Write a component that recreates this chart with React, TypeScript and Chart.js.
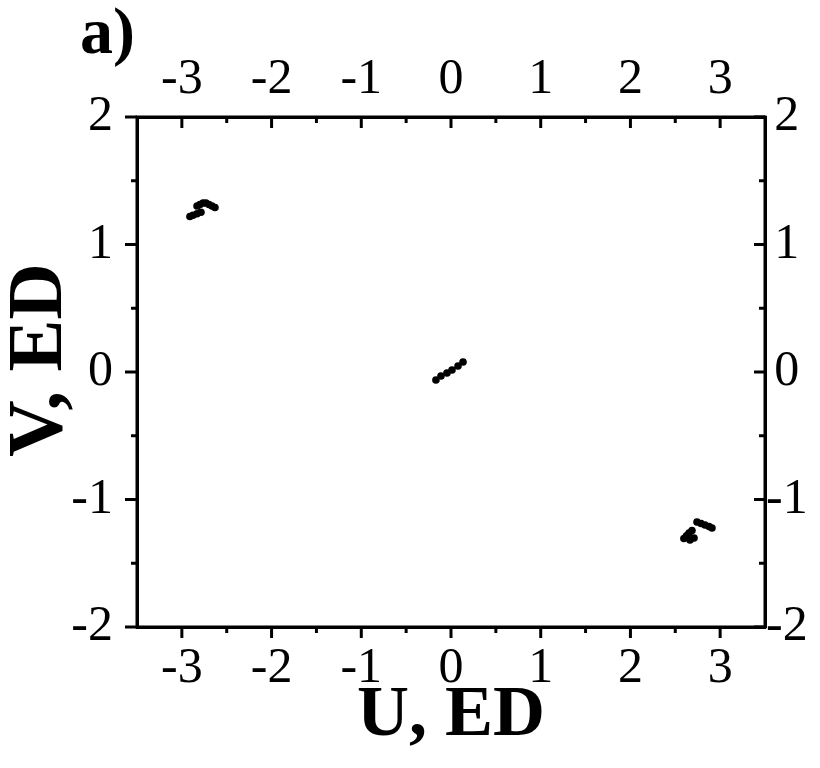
import React, { useEffect, useRef } from "react";
import { Chart, registerables } from "chart.js";

Chart.register(...registerables);

// ---- data ----
const CLUSTER_LEFT_U = [-2.91, -2.876, -2.831, -2.787, -2.831, -2.798, -2.764, -2.731, -2.698, -2.664, -2.631];
const CLUSTER_LEFT_V = [1.22, 1.229, 1.241, 1.253, 1.302, 1.314, 1.325, 1.325, 1.314, 1.302, 1.29];

const CLUSTER_CENTER_U = [-0.168, -0.112, -0.045, 0.011, 0.078, 0.134];
const CLUSTER_CENTER_V = [-0.063, -0.031, -0.008, 0.016, 0.047, 0.078];

const CLUSTER_RIGHT_U = [2.742, 2.787, 2.831, 2.876, 2.909, 2.596, 2.625, 2.653, 2.686, 2.664, 2.709];
const CLUSTER_RIGHT_V = [-1.176, -1.188, -1.2, -1.212, -1.224, -1.306, -1.284, -1.263, -1.243, -1.318, -1.302];

const X_MAJOR = [-3, -2, -1, 0, 1, 2, 3];
const X_MINOR = [-2.5, -1.5, -0.5, 0.5, 1.5, 2.5];
const Y_MAJOR = [-2, -1, 0, 1, 2];
const Y_MINOR = [-1.5, -0.5, 0.5, 1.5];

const X_TITLE = "U, ED";
const Y_TITLE = "V, ED";
const PANEL_LABEL = "a)";

const FAMILY = '"Liberation Serif", "Times New Roman", Times, serif';

function toPoints(u: number[], v: number[]) {
  return u.map((x, i) => ({ x, y: v[i] }));
}

const frameTicks = {
  id: "frameTicks",
  afterDraw(chart: any) {
    const { ctx, scales } = chart;
    const x = scales.x;
    const y = scales.y;
    const area = chart.chartArea;
    ctx.save();
    ctx.strokeStyle = "#000";
    ctx.lineWidth = 3;
    ctx.lineCap = "butt";
    const line = (x1: number, y1: number, x2: number, y2: number) => {
      ctx.beginPath();
      ctx.moveTo(x1, y1);
      ctx.lineTo(x2, y2);
      ctx.stroke();
    };
    X_MAJOR.forEach((v) => {
      const px = x.getPixelForValue(v);
      line(px, area.bottom, px, area.bottom + 11);
      line(px, area.top, px, area.top + 11);
    });
    X_MINOR.forEach((v) => {
      const px = x.getPixelForValue(v);
      line(px, area.bottom, px, area.bottom + 6);
      line(px, area.top, px, area.top + 6);
    });
    Y_MAJOR.forEach((v) => {
      const py = y.getPixelForValue(v);
      line(area.left, py, area.left - 12, py);
      line(area.right, py, area.right - 11, py);
    });
    Y_MINOR.forEach((v) => {
      const py = y.getPixelForValue(v);
      line(area.left, py, area.left - 6, py);
      line(area.right, py, area.right - 6, py);
    });
    ctx.strokeRect(area.left, area.top, area.right - area.left, area.bottom - area.top);

    ctx.fillStyle = "#000";
    ctx.font = `bold 66px ${FAMILY}`;
    ctx.textAlign = "left";
    ctx.textBaseline = "alphabetic";
    ctx.fillText(PANEL_LABEL, 80, 53);

    ctx.font = `bold 72px ${FAMILY}`;
    ctx.textAlign = "center";
    ctx.textBaseline = "middle";
    ctx.fillText(X_TITLE, (area.left + area.right) / 2, 716);

    ctx.font = `bold 78px ${FAMILY}`;
    ctx.translate(41, 360);
    ctx.rotate(-Math.PI / 2);
    ctx.fillText(Y_TITLE, 0, 0);
    ctx.restore();
  },
};

export default function App() {
  const ref = useRef<HTMLCanvasElement | null>(null);
  useEffect(() => {
    if (!ref.current) return;
    const tickFont = { family: FAMILY, size: 50 };
    const setTicks = (vals: number[]) => (s: any) => {
      s.ticks = vals.map((v) => ({ value: v }));
    };
    const border = { display: true, color: "#000", width: 3 };
    const grid = { display: false, drawTicks: false };
    const chart = new Chart(ref.current, {
      type: "scatter",
      data: {
        datasets: [
          { data: toPoints(CLUSTER_LEFT_U, CLUSTER_LEFT_V) },
          { data: toPoints(CLUSTER_CENTER_U, CLUSTER_CENTER_V) },
          { data: toPoints(CLUSTER_RIGHT_U, CLUSTER_RIGHT_V) },
        ].map((d) => ({
          ...d,
          pointRadius: 3.8,
          pointBackgroundColor: "#000",
          pointBorderWidth: 0,
          showLine: false,
        })),
      },
      options: {
        animation: false,
        responsive: false,
        devicePixelRatio: 1,
        layout: { padding: 0 },
        plugins: { legend: { display: false }, tooltip: { enabled: false } },
        scales: {
          x: {
            type: "linear",
            position: "bottom",
            min: -3.5,
            max: 3.5,
            grid,
            border,
            afterBuildTicks: setTicks(X_MAJOR),
            ticks: { font: tickFont, color: "#000", padding: 12, maxRotation: 0, autoSkip: false, callback: (v: any) => String(v) },
            afterFit: (s: any) => { s.height = 141; },
          },
          x2: {
            type: "linear",
            position: "top",
            min: -3.5,
            max: 3.5,
            grid,
            border,
            afterBuildTicks: setTicks(X_MAJOR),
            ticks: { font: tickFont, color: "#000", padding: 7, maxRotation: 0, autoSkip: false, callback: (v: any) => String(v) },
            afterFit: (s: any) => { s.height = 117; },
          },
          y: {
            type: "linear",
            position: "left",
            min: -2,
            max: 2,
            grid,
            border,
            afterBuildTicks: setTicks(Y_MAJOR),
            ticks: { font: tickFont, color: "#000", padding: 24, autoSkip: false, callback: (v: any) => String(v) },
            afterFit: (s: any) => { s.width = 137; },
          },
          y2: {
            type: "linear",
            position: "right",
            min: -2,
            max: 2,
            grid,
            border,
            afterBuildTicks: setTicks(Y_MAJOR),
            ticks: { font: tickFont, color: "#000", padding: 1, crossAlign: "center", autoSkip: false, callback: (v: any) => String(v) },
            afterFit: (s: any) => { s.width = 55; },
          },
        },
      },
      plugins: [frameTicks],
    });
    return () => chart.destroy();
  }, []);
  return (
    <canvas
      ref={ref}
      width={820}
      height={768}
      style={{ position: "absolute", left: 0, top: 0, width: 820, height: 768, display: "block", background: "#fff" }}
    />
  );
}
